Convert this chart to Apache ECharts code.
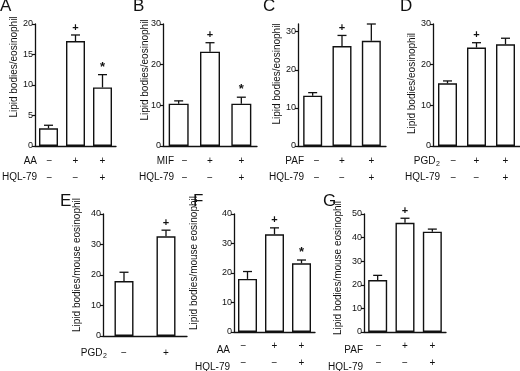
<!DOCTYPE html>
<html>
<head>
<meta charset="utf-8">
<script src="https://cdn.jsdelivr.net/npm/echarts@6/dist/echarts.min.js"></script>
<style>
  html, body { margin: 0; padding: 0; background: #fff; }
  #chart { width: 520px; height: 371px; }
</style>
</head>
<body>
<div id="chart"></div>
<script>
// values: bar mean, upper error, significance mark
const meansA = [2.9, 17.2, 9.6]
const errsA = [0.5, 1.0, 2.1]
const marksA = ['', '+', '*']
const rowsA = [['AA', '−', '+', '+'], ['HQL-79', '−', '−', '+']]

const meansB = [10.4, 23.2, 10.4]
const errsB = [0.7, 2.2, 1.6]
const marksB = ['', '+', '*']
const rowsB = [['MIF', '−', '+', '+'], ['HQL-79', '−', '−', '+']]

const meansC = [13.2, 26.2, 27.6]
const errsC = [0.8, 2.8, 4.4]
const marksC = ['', '+', '']
const rowsC = [['PAF', '−', '+', '+'], ['HQL-79', '−', '−', '+']]

const meansD = [15.4, 24.2, 25.0]
const errsD = [0.6, 1.2, 1.5]
const marksD = ['', '+', '']
const rowsD = [['PGD2', '−', '+', '+'], ['HQL-79', '−', '−', '+']]

const meansE = [18.0, 32.7]
const errsE = [2.9, 2.0]
const marksE = ['', '+']
const rowsE = [['PGD2', '−', '+']]

const meansF = [18.0, 33.1, 23.3]
const errsF = [2.5, 2.2, 1.1]
const marksF = ['', '+', '*']
const rowsF = [['AA', '−', '+', '+'], ['HQL-79', '−', '−', '+']]

const meansG = [22.0, 46.3, 42.5]
const errsG = [2.0, 1.9, 1.1]
const marksG = ['', '+', '']
const rowsG = [['PAF', '−', '+', '+'], ['HQL-79', '−', '−', '+']]

// y axis: max and tick labels
const yMax = [20, 30, 32, 30, 40, 40, 50]
const yTicksA = [0, 5, 10, 15, 20]
const yTicks30 = [0, 10, 20, 30]
const yTicks40 = [0, 10, 20, 30, 40]
const yTicks50 = [0, 10, 20, 30, 40, 50]

const titleTop = 'Lipid bodies/eosinophil'
const titleBottom = 'Lipid bodies/mouse eosinophil'

const panels = [
  { letter: 'A', means: meansA, errs: errsA, marks: marksA, rows: rowsA, ticks: yTicksA, title: titleTop },
  { letter: 'B', means: meansB, errs: errsB, marks: marksB, rows: rowsB, ticks: yTicks30, title: titleTop },
  { letter: 'C', means: meansC, errs: errsC, marks: marksC, rows: rowsC, ticks: yTicks30, title: titleTop },
  { letter: 'D', means: meansD, errs: errsD, marks: marksD, rows: rowsD, ticks: yTicks30, title: titleTop },
  { letter: 'E', means: meansE, errs: errsE, marks: marksE, rows: rowsE, ticks: yTicks40, title: titleBottom },
  { letter: 'F', means: meansF, errs: errsF, marks: marksF, rows: rowsF, ticks: yTicks40, title: titleBottom },
  { letter: 'G', means: meansG, errs: errsG, marks: marksG, rows: rowsG, ticks: yTicks50, title: titleBottom },
]

// layout of each panel (pixels); shift0 nudges the first column of +/- labels
const layout = [
  { left: 35, top: 24, width: 81, bw: 19, letterPos: [0, 6], titlePos: [14, 67], rowRight: 37, rowY: [161, 177], margin: 7, shift0: 1 },
  { left: 163, top: 24, width: 94, bw: 20, letterPos: [133, 6], titlePos: [145.5, 70], rowRight: 174, rowY: [161, 177], margin: 7, shift0: 6 },
  { left: 298, top: 24, width: 88, bw: 19, letterPos: [263, 6], titlePos: [277, 74], rowRight: 304, rowY: [161, 177], margin: 7, shift0: 4 },
  { left: 433, top: 24, width: 89, bw: 19, letterPos: [400, 6], titlePos: [412.5, 83.5], rowRight: 440, rowY: [161, 177], margin: 7, shift0: 6 },
  { left: 103, top: 214, width: 84, bw: 19, letterPos: [60, 201], titlePos: [77, 265], rowRight: 107, rowY: [353], margin: 9, shift0: 0 },
  { left: 234, top: 214, width: 81, bw: 19, letterPos: [193, 201], titlePos: [194, 263], rowRight: 230, rowY: [350, 367], margin: 6, shift0: -4 },
  { left: 364, top: 214, width: 82, bw: 19, letterPos: [323, 201], titlePos: [338, 268], rowRight: 363, rowY: [350, 367], margin: 6, shift0: 1 },
]

const FONT = 'Liberation Sans, Arial, sans-serif'
const INK = '#111'

const grids = []
const xAxes = []
const yAxes = []
const series = []
const graphics = []

panels.forEach((p, i) => {
  const l = layout[i]
  grids.push({ left: l.left, top: l.top, width: l.width, height: 122 })
  // padding on one side moves the centred first label sideways
  const pad = l.shift0 >= 0 ? [0, 0, 0, 2 * l.shift0] : [0, -2 * l.shift0, 0, 0]
  xAxes.push({
    type: 'category',
    gridIndex: i,
    data: p.means.map((_, k) => String(k)),
    axisLine: { lineStyle: { color: INK, width: 1.3 } },
    axisTick: { show: false },
    axisLabel: {
      interval: 0,
      margin: l.margin,
      lineHeight: 16.5,
      fontSize: 10,
      fontFamily: FONT,
      color: INK,
      rich: {
        s: { fontSize: 10, fontFamily: FONT, color: INK, lineHeight: 16.5, padding: pad },
      },
      formatter: (v, k) => p.rows.map(r => (k === 0 && l.shift0 ? '{s|' + r[1] + '}' : r[k + 1])).join('\n'),
    },
  })
  yAxes.push({
    type: 'value',
    gridIndex: i,
    min: 0,
    max: yMax[i],
    interval: 10,
    splitLine: { show: false },
    axisLine: { show: true, lineStyle: { color: INK, width: 1.3 } },
    axisTick: { show: true, length: 3, customValues: p.ticks, lineStyle: { color: INK, width: 1.2 } },
    axisLabel: { margin: 2, fontSize: 9, fontFamily: FONT, color: INK, customValues: p.ticks },
  })
  // bars
  series.push({
    type: 'bar',
    xAxisIndex: i,
    yAxisIndex: i,
    barWidth: l.bw,
    data: p.means,
    itemStyle: { color: '#fff', borderColor: INK, borderWidth: 1.4 },
    silent: true,
  })
  // upper error bars + significance marks
  series.push({
    type: 'custom',
    xAxisIndex: i,
    yAxisIndex: i,
    data: p.means.map((m, k) => [k, m, p.errs[k]]),
    z: 3,
    renderItem(params, api) {
      const k = api.value(0)
      const m = api.value(1)
      const e = api.value(2)
      const base = api.coord([k, m])
      const top = api.coord([k, m + e])
      const half = 4.5
      const st = { stroke: INK, lineWidth: 1.3 }
      const children = [
        { type: 'line', shape: { x1: base[0], y1: base[1], x2: top[0], y2: top[1] }, style: st },
        { type: 'line', shape: { x1: top[0] - half, y1: top[1], x2: top[0] + half, y2: top[1] }, style: st },
      ]
      const mark = p.marks[params.dataIndex]
      if (mark) {
        children.push({
          type: 'text',
          x: top[0],
          y: top[1] - (mark === '*' ? 1 : 2),
          style: {
            text: mark,
            font: 'bold ' + (mark === '*' ? 13 : 11) + 'px ' + FONT,
            fill: INK,
            textAlign: 'center',
            textVerticalAlign: 'bottom',
            align: 'center',
            verticalAlign: 'bottom',
          },
        })
      }
      return { type: 'group', children }
    },
  })

  // panel letter
  graphics.push({
    type: 'text', x: l.letterPos[0], y: l.letterPos[1],
    style: { text: p.letter, font: '17px ' + FONT, fill: INK, textAlign: 'left', textVerticalAlign: 'middle' },
  })
  // y axis title
  graphics.push({
    type: 'text', x: l.titlePos[0], y: l.titlePos[1], rotation: Math.PI / 2,
    style: { text: p.title, font: '10px ' + FONT, fill: INK, textAlign: 'center', textVerticalAlign: 'middle' },
  })
  // row names under the axis
  p.rows.forEach((r, j) => {
    const y = l.rowY[j]
    if (r[0] === 'PGD2') {
      graphics.push({
        type: 'text', x: l.rowRight, y: y + 3,
        style: { text: '2', font: '7px ' + FONT, fill: INK, textAlign: 'right', textVerticalAlign: 'middle' },
      })
      graphics.push({
        type: 'text', x: l.rowRight - 4.5, y,
        style: { text: 'PGD', font: '10px ' + FONT, fill: INK, textAlign: 'right', textVerticalAlign: 'middle' },
      })
    } else {
      graphics.push({
        type: 'text', x: l.rowRight, y,
        style: { text: r[0], font: '10px ' + FONT, fill: INK, textAlign: 'right', textVerticalAlign: 'middle' },
      })
    }
  })
})

const chart = echarts.init(document.getElementById('chart'))
chart.setOption({
  animation: false,
  backgroundColor: '#fff',
  grid: grids,
  xAxis: xAxes,
  yAxis: yAxes,
  series,
  graphic: graphics,
})
</script>
</body>
</html>
